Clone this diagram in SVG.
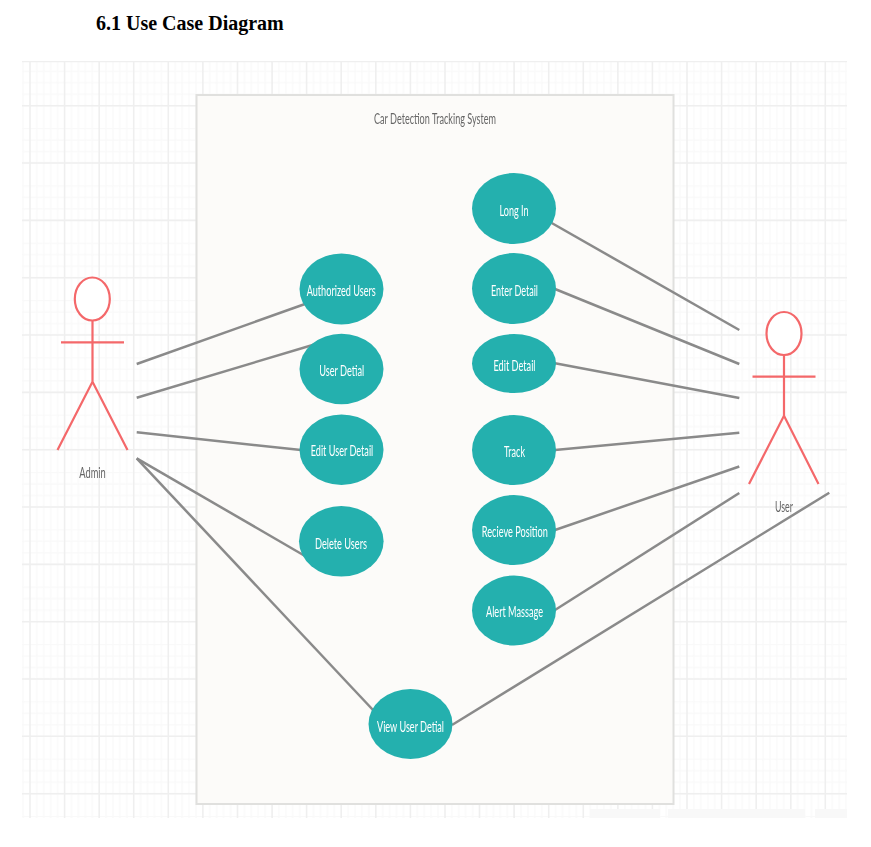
<svg xmlns="http://www.w3.org/2000/svg" width="871" height="847" viewBox="0 0 871 847">
<style>
.title{font-family:"Liberation Serif",serif;font-weight:bold;font-size:20px;fill:#000}
.maj{stroke:#efefef;stroke-width:1.6;fill:none}
.uc{fill:#24b0ae}
.ut{font-family:Lato,"Liberation Sans",sans-serif;font-size:16px;fill:#fff;text-anchor:middle;filter:url(#soft)}
.lbl{font-family:Lato,"Liberation Sans",sans-serif;font-size:15.500px;fill:#666;text-anchor:middle;filter:url(#soft)}
.act{stroke:#f4686a;stroke-width:2.200;fill:none}
.head{stroke:#f4686a;stroke-width:2.200;fill:#fff}
.con{stroke:#8a8a8a;stroke-width:2.500;fill:none}
</style>
<defs>
<filter id="soft" x="-5%" y="-20%" width="110%" height="140%"><feGaussianBlur stdDeviation="0.250"/></filter>
<filter id="gridblur" x="0" y="0" width="100%" height="100%"><feGaussianBlur stdDeviation="0.500"/></filter>
<pattern id="minor" patternUnits="userSpaceOnUse" x="30" y="59.800" width="34.580" height="57.330">
<path d="M6.900 0V57.330M13.800 0V57.330M20.700 0V57.330M27.700 0V57.330M0 11.500H34.580M0 22.900H34.580M0 34.400H34.580M0 45.900H34.580" stroke="#f9f9f9" stroke-width="1.200" fill="none"/>
</pattern>
</defs>
<rect width="871" height="847" fill="#fff"/>
<text class="title" x="96" y="30">6.1 Use Case Diagram</text>
<g id="grid" filter="url(#gridblur)">
<rect x="22" y="61" width="825" height="757" fill="url(#minor)"/>
<path class="maj" d="M22 61.500H847M22 105.700H847M22 163H847M22 220.400H847M22 277.800H847M22 335H847M22 392.400H847M22 449.700H847M22 507H847M22 564.400H847M22 621.700H847M22 679H847M22 736.200H847M22 793.700H847"/>
<path class="maj" d="M30 61V818M64.600 61V818M99.200 61V818M133.700 61V818M168.300 61V818M202.900 61V818M237.500 61V818M272.100 61V818M306.600 61V818M341.200 61V818M375.800 61V818M410.400 61V818M445 61V818M479.500 61V818M514.100 61V818M548.700 61V818M583.300 61V818M617.900 61V818M652.400 61V818M687 61V818M721.600 61V818M756.200 61V818M790.800 61V818M825.300 61V818"/>
<path d="M590 809H660V818H590ZM668 809H805V818H668ZM815 809H847V818H815Z" fill="#f8f8f8"/>
</g>
<g id="system">
<rect x="196.500" y="95" width="477" height="709" fill="#fcfbf9" stroke="#e0e0de" stroke-width="2"/>
<text class="lbl" x="435" y="123.500" textLength="122" lengthAdjust="spacingAndGlyphs">Car Detection Tracking System</text>
</g>
<g id="connectors">
<path class="con" d="M136.700 364L305 304"/>
<path class="con" d="M136.700 397.700L316 344"/>
<path class="con" d="M136.700 432.300L301 450"/>
<path class="con" d="M136.700 458.300L305 556"/>
<path class="con" d="M136.700 458.300L373 710"/>
<path class="con" d="M551.700 223L739.300 330"/>
<path class="con" d="M555 289L739.300 364"/>
<path class="con" d="M555 363.300L739.300 398"/>
<path class="con" d="M555 450L739.300 432.700"/>
<path class="con" d="M555 530L739.300 466.500"/>
<path class="con" d="M555 610L739.300 493"/>
<path class="con" d="M452 725L829.300 492.700"/>
</g>
<g id="admin">
<ellipse class="head" cx="92.300" cy="299" rx="17.500" ry="21.500"/>
<path class="act" d="M92.500 320.500V381.700M61 342.300H124M92.500 381.700L57.500 450M92.500 381.700L127.500 450"/>
<text class="lbl" x="92.500" y="478" textLength="26.500" lengthAdjust="spacingAndGlyphs">Admin</text>
</g>
<g id="user">
<ellipse class="head" cx="784" cy="333.500" rx="17.500" ry="21.500"/>
<path class="act" d="M784 355V415.700M752.500 376.700H815.500M784 415.700L749 484M784 415.700L818.500 484"/>
<text class="lbl" x="784" y="512" textLength="18" lengthAdjust="spacingAndGlyphs">User</text>
</g>
<g id="uc-authorized-users"><ellipse class="uc" cx="341.500" cy="289" rx="42" ry="35.500"/><text class="ut" x="341.200" y="296" textLength="69" lengthAdjust="spacingAndGlyphs">Authorized Users</text></g>
<g id="uc-user-detial"><ellipse class="uc" cx="341.500" cy="369" rx="42" ry="35.300"/><text class="ut" x="341.700" y="375.500" textLength="45" lengthAdjust="spacingAndGlyphs">User Detial</text></g>
<g id="uc-edit-user-detail"><ellipse class="uc" cx="341.500" cy="449.700" rx="42" ry="35.300"/><text class="ut" x="342" y="455.700" textLength="62.500" lengthAdjust="spacingAndGlyphs">Edit User Detail</text></g>
<g id="uc-delete-users"><ellipse class="uc" cx="341.300" cy="541.300" rx="42.300" ry="35.300"/><text class="ut" x="341" y="549" textLength="52" lengthAdjust="spacingAndGlyphs">Delete Users</text></g>
<g id="uc-long-in"><ellipse class="uc" cx="514" cy="208.500" rx="42" ry="35.500"/><text class="ut" x="514" y="216" textLength="29" lengthAdjust="spacingAndGlyphs">Long In</text></g>
<g id="uc-enter-detail"><ellipse class="uc" cx="514" cy="288.500" rx="42" ry="35.500"/><text class="ut" x="514.500" y="296" textLength="47" lengthAdjust="spacingAndGlyphs">Enter Detail</text></g>
<g id="uc-edit-detail"><ellipse class="uc" cx="514" cy="363.500" rx="42" ry="29.500"/><text class="ut" x="514.500" y="371" textLength="42" lengthAdjust="spacingAndGlyphs">Edit Detail</text></g>
<g id="uc-track"><ellipse class="uc" cx="514" cy="450" rx="42" ry="35"/><text class="ut" x="514.500" y="457" textLength="21" lengthAdjust="spacingAndGlyphs">Track</text></g>
<g id="uc-recieve-position"><ellipse class="uc" cx="514" cy="530" rx="42" ry="35"/><text class="ut" x="514.800" y="537" textLength="66" lengthAdjust="spacingAndGlyphs">Recieve Position</text></g>
<g id="uc-alert-massage"><ellipse class="uc" cx="514" cy="610.500" rx="42" ry="35"/><text class="ut" x="514.500" y="616.500" textLength="57" lengthAdjust="spacingAndGlyphs">Alert Massage</text></g>
<g id="uc-view-user-detial"><ellipse class="uc" cx="410.500" cy="724" rx="42" ry="35"/><text class="ut" x="410.500" y="731.500" textLength="67" lengthAdjust="spacingAndGlyphs">View User Detial</text></g>
</svg>
